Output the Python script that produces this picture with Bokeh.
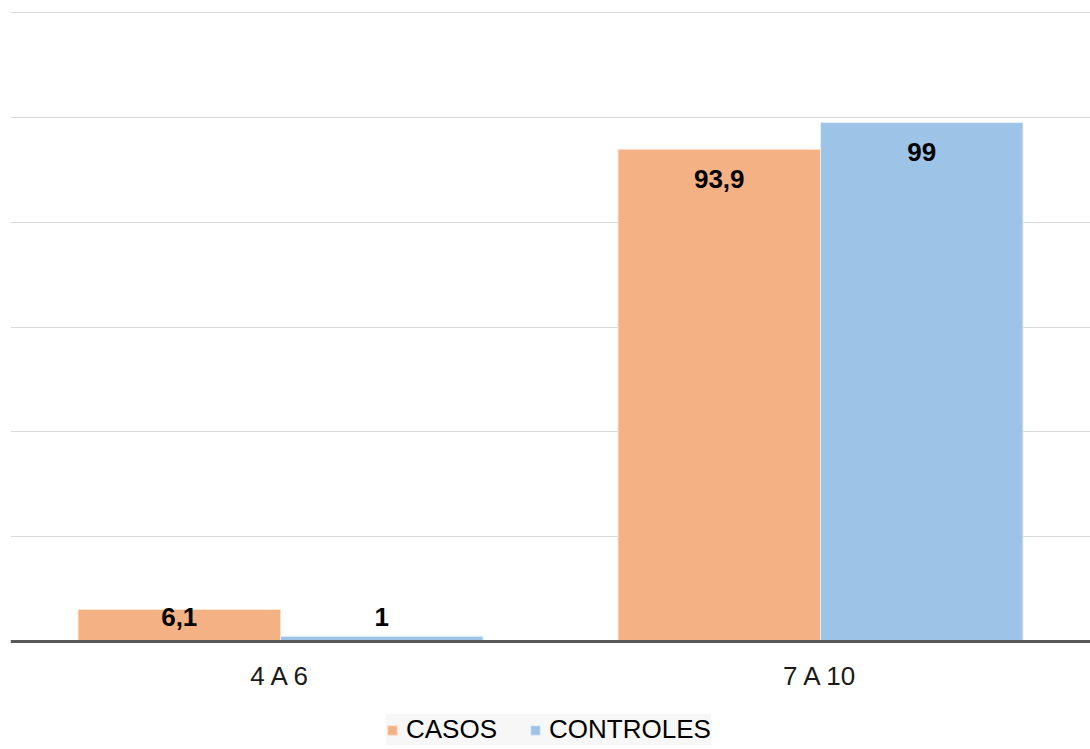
from bokeh.plotting import figure
from bokeh.models import ColumnDataSource, FactorRange, Range1d, Legend, LegendItem, Span
from bokeh.transform import dodge
from bokeh.core.properties import value
from bokeh.embed import file_html
from bokeh.resources import INLINE

# Age groups and percentages per group
categories = ["4 A 6", "7 A 10"]
casos = [6.1, 93.9]
controles = [1.0, 99.0]
series_names = ["CASOS", "CONTROLES"]
y_ticks = [20, 40, 60, 80, 100, 120]

def fmt(v):
    s = ("%.1f" % v).rstrip("0").rstrip(".")
    return s.replace(".", ",")

# label sits inside the top of the bar, kept clear of the baseline for short bars
def label_y(v):
    return max(v - 5.6, 4.6)

source = ColumnDataSource(dict(
    cat=categories,
    casos=casos,
    controles=controles,
    casos_lbl=[fmt(v) for v in casos],
    controles_lbl=[fmt(v) for v in controles],
    casos_y=[label_y(v) for v in casos],
    controles_y=[label_y(v) for v in controles],
))

# the frame runs to the bottom of the page; the space below zero holds
# the category names and the legend
W, H = 1090, 749
top_pad = 8                 # pixels above the frame
grid_top_px = 12            # pixel row of the 120 gridline
base_px = 641               # pixel row of the zero line
y_top_grid = 120
px_per_unit = (base_px - grid_top_px) / y_top_grid
y_max = y_top_grid + (grid_top_px - top_pad) / px_per_unit
y_min = -(H - base_px) / px_per_unit

p = figure(
    width=W, height=H,
    x_range=FactorRange(*categories, range_padding=0),
    y_range=Range1d(y_min, y_max),
    output_backend="svg", toolbar_location=None,
    min_border_left=10, min_border_right=0, min_border_top=top_pad, min_border_bottom=0,
)
p.outline_line_color = None
p.background_fill_color = "white"
p.border_fill_color = "white"
p.xaxis.visible = False
p.yaxis.visible = False

p.ygrid.ticker = y_ticks
p.ygrid.grid_line_color = "#d9d9d9"
p.ygrid.grid_line_width = 1
p.xgrid.grid_line_color = None

bw = 0.375
r1 = p.vbar(x=dodge("cat", -bw / 2, range=p.x_range), top="casos", bottom=0, width=bw, source=source,
            fill_color="#f4b183", line_color="#fbe3d2", line_width=1)
r2 = p.vbar(x=dodge("cat", bw / 2, range=p.x_range), top="controles", bottom=0, width=bw, source=source,
            fill_color="#9dc3e6", line_color="#e3eef9", line_width=1)

# baseline
p.add_layout(Span(location=0, dimension="width", line_color="#595959", line_width=3))

# value labels
for ycol, lcol, off in [("casos_y", "casos_lbl", -bw / 2),
                        ("controles_y", "controles_lbl", bw / 2)]:
    p.text(x=dodge("cat", off, range=p.x_range), y=ycol, text=lcol, source=source,
           text_align="center", text_baseline="middle",
           text_font=value("Liberation Sans"), text_font_style="bold",
           text_font_size="26px", text_color="black")

# category names under the baseline
p.text(x="cat", y=0, text="cat", source=source, y_offset=34,
       text_align="center", text_baseline="middle",
       text_font=value("Liberation Sans"), text_font_size="26px", text_color="#1a1a1a")

legend = Legend(
    items=[LegendItem(label=series_names[0], renderers=[r1]),
           LegendItem(label=series_names[1], renderers=[r2])],
    location=(376, 4), orientation="horizontal",
    label_text_font="Liberation Sans", label_text_font_size="26px",
    label_text_color="black", label_height=30,
    glyph_width=12, glyph_height=12, label_standoff=8, spacing=32,
    padding=6, margin=0,
    background_fill_color="#f7f7f7", background_fill_alpha=1,
    border_line_color=None,
)
p.add_layout(legend, "center")

open("out.html", "w").write(file_html(p, INLINE))
